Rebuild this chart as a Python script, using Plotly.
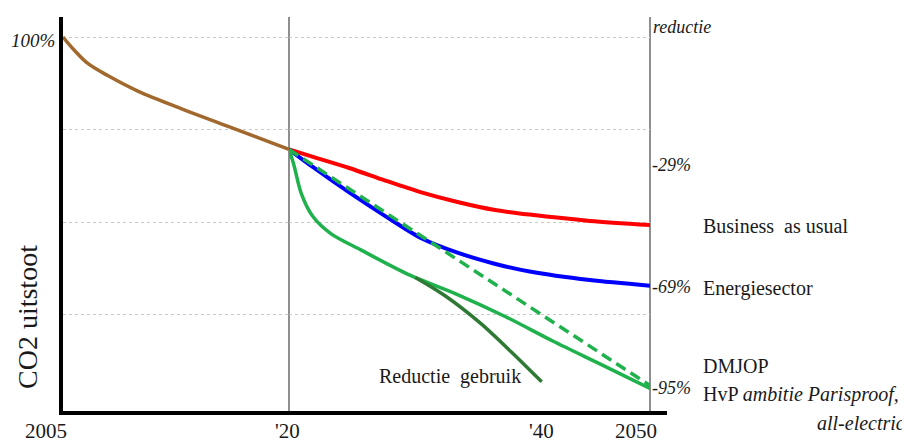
import plotly.graph_objects as go

# ---------------- data (percent of 2005 CO2 emissions) ----------------
hist_years = [2005, 2005.3, 2005.8, 2006.6, 2008, 2010, 2013, 2016, 2020]
hist_values = [100.0, 98.5, 96.2, 93.0, 89.5, 85.3, 80.4, 75.8, 69.6]

future_years = [2020, 2022, 2025, 2028, 2031, 2034, 2037, 2040, 2045, 2050]
bau_values = [69.6, 67.6, 64.6, 61.2, 58.0, 55.4, 53.3, 52.0, 50.3, 49.2]
energie_values = [69.6, 64.8, 58.0, 51.6, 45.6, 41.7, 38.8, 36.6, 34.3, 32.8]

dmjop_years = [2020, 2020.4, 2021, 2022, 2023.5, 2026, 2030, 2034, 2038, 2042, 2046, 2050]
dmjop_values = [69.6, 65.5, 57.9, 51.4, 46.8, 42.4, 35.7, 30.4, 24.4, 17.7, 11.4, 5.0]

parisproof_years = [2020, 2050]
parisproof_values = [69.6, 5.8]

gebruik_years = [2030.5, 2033, 2036, 2038.5, 2041]
gebruik_values = [35.0, 30.0, 22.4, 14.8, 6.8]

grid_values = [25, 50, 75, 100]

# ---------------- styling helpers ----------------
OFF = 8                                 # page body margin
W, H = 910 - OFF, 444 - OFF
L, R, T, B = 63, 650, 17, 411          # plot area in window pixels
SPLIT = 289                             # pixel position of 2020
d = (SPLIT - L) / (R - L)
SERIF = "Liberation Serif"

def px(x):
    return (x - L) / (R - L)

def py(y):
    return (B - y) / (B - T)

fig = go.Figure()

fig.add_trace(go.Scatter(x=hist_years, y=hist_values, mode="lines",
                         line=dict(color="#a2692e", width=3.5, shape="spline", smoothing=1.0),
                         xaxis="x", yaxis="y", hoverinfo="skip"))
fig.add_trace(go.Scatter(x=future_years, y=bau_values, mode="lines",
                         line=dict(color="#ff0000", width=4, shape="spline", smoothing=0.8),
                         xaxis="x2", yaxis="y", hoverinfo="skip"))
fig.add_trace(go.Scatter(x=future_years, y=energie_values, mode="lines",
                         line=dict(color="#0000ff", width=4, shape="spline", smoothing=0.8),
                         xaxis="x2", yaxis="y", hoverinfo="skip"))
fig.add_trace(go.Scatter(x=parisproof_years, y=parisproof_values, mode="lines",
                         line=dict(color="#1fb24c", width=3.5, dash="11px,6px"),
                         xaxis="x2", yaxis="y", hoverinfo="skip"))
fig.add_trace(go.Scatter(x=dmjop_years, y=dmjop_values, mode="lines",
                         line=dict(color="#1fb24c", width=3.5, shape="spline", smoothing=0.8),
                         xaxis="x2", yaxis="y", hoverinfo="skip"))
fig.add_trace(go.Scatter(x=gebruik_years, y=gebruik_values, mode="lines",
                         line=dict(color="#2e7a35", width=3.5, shape="spline", smoothing=0.8),
                         xaxis="x2", yaxis="y", hoverinfo="skip"))

ymin = -(B - 407) / 3.7
ymax = 100 + (37 - T) / 3.7

axis_common = dict(showgrid=False, zeroline=False, showticklabels=False, ticks="",
                   showline=False, fixedrange=True)

fig.update_layout(
    width=W, height=H,
    margin=dict(l=L - OFF, r=W - (R - OFF), t=T - OFF, b=H - (B - OFF), pad=0),
    paper_bgcolor="white", plot_bgcolor="white",
    showlegend=False,
    font=dict(family=SERIF, color="#1a1a1a"),
    xaxis=dict(domain=[0, d], range=[2005, 2020], anchor="y", **axis_common),
    xaxis2=dict(domain=[d, 1], range=[2020, 2050], anchor="y", **axis_common),
    yaxis=dict(range=[ymin, ymax], tickvals=grid_values, showticklabels=False, ticks="",
               showgrid=True, gridcolor="#c9c9c9", gridwidth=1, griddash="dot",
               zeroline=False, showline=True, linecolor="black", linewidth=4,
               fixedrange=True),
)

shapes = [
    dict(type="line", xref="paper", yref="paper", x0=d, x1=d, y0=0, y1=1,
         line=dict(color="#8f8f8f", width=2), layer="below"),
    dict(type="line", xref="paper", yref="paper", x0=1, x1=1, y0=0, y1=1,
         line=dict(color="#8f8f8f", width=2), layer="below"),
    dict(type="line", xref="paper", yref="paper", x0=px(L - 4), x1=px(667),
         y0=py(413), y1=py(413), line=dict(color="black", width=4)),
]
fig.update_layout(shapes=shapes)

def ann(text, x, y, size, xanchor="left", italic=False, angle=0):
    if italic:
        text = "<i>" + text + "</i>"
    fig.add_annotation(text=text, xref="paper", yref="paper", x=px(x), y=py(y),
                       xanchor=xanchor, yanchor="middle", showarrow=False,
                       textangle=angle, borderpad=0,
                       font=dict(family=SERIF, size=size, color="#1a1a1a"))

ann("100%", 56, 40, 19, xanchor="right", italic=True)
ann("CO2 uitstoot", 27, 317, 28, xanchor="center", angle=-90)
ann("2005", 46, 431, 21, xanchor="center")
ann("'20", 287, 431, 21, xanchor="center")
ann("'40", 541, 431, 21, xanchor="center")
ann("2050", 636, 431, 21, xanchor="center")
ann("reductie", 652, 27, 18, italic=True)
ann("-29%", 651, 165, 18, italic=True)
ann("-69%", 651, 287, 18, italic=True)
ann("-95%", 651, 388, 18, italic=True)
ann("Business  as usual", 702, 226, 20)
ann("Energiesector", 702, 288, 20)
ann("DMJOP", 702, 366, 20)
ann("HvP <i>ambitie Parisproof,</i>", 702, 394, 20)
ann("all-electric", 906, 423, 20, xanchor="right", italic=True)
ann("Reductie  gebruik", 450, 376, 20, xanchor="center")

fig.write_html("out.html")
